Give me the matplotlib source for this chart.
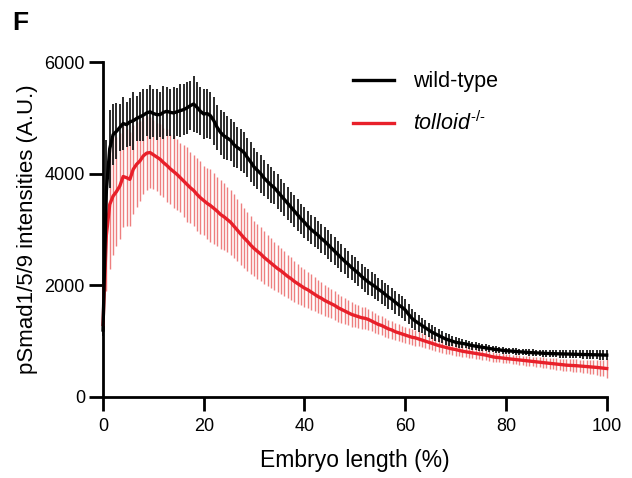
import numpy as np
import matplotlib
matplotlib.use("Agg")
import matplotlib.pyplot as plt

plt.rcParams['font.family'] = ['Liberation Sans', 'DejaVu Sans']
plt.rcParams['mathtext.fontset'] = 'custom'
plt.rcParams['mathtext.rm'] = 'Liberation Sans'
plt.rcParams['mathtext.it'] = 'Liberation Sans:italic'

# Embryo length positions (%), 151 samples
n_points = 151
x_max = 100

wt_mean = [
    1200, 3700, 4450, 4700, 4760, 4830, 4900, 4880, 4930, 4950,
    4990, 5020, 5050, 5090, 5110, 5080, 5060, 5060, 5100, 5120,
    5100, 5090, 5110, 5130, 5150, 5180, 5220, 5250, 5190, 5120,
    5070, 5080, 5040, 4950, 4830, 4740, 4680, 4640, 4600, 4520,
    4470, 4430, 4380, 4290, 4210, 4120, 4060, 4000, 3920, 3860,
    3800, 3750, 3680, 3610, 3540, 3470, 3400, 3330, 3260, 3190,
    3130, 3060, 3000, 2950, 2900, 2840, 2790, 2730, 2670, 2610,
    2550, 2490, 2430, 2380, 2320, 2270, 2220, 2160, 2110, 2060,
    2020, 1980, 1930, 1890, 1840, 1790, 1750, 1700, 1650, 1610,
    1560, 1480, 1410, 1360, 1320, 1280, 1240, 1200, 1160, 1130,
    1100, 1070, 1040, 1020, 1000, 980, 970, 960, 950, 935,
    920, 910, 900, 890, 880, 870, 860, 850, 845, 835,
    830, 825, 820, 815, 810, 805, 800, 797, 793, 790,
    787, 783, 780, 778, 776, 775, 773, 771, 770, 768,
    766, 765, 763, 761, 760, 758, 757, 755, 753, 752,
    750,
]
wt_sd = [
    100, 900, 700, 550,
    500, 420, 480, 400, 430, 520, 410, 440, 460, 420, 480, 430, 450, 400, 470,
    440, 420, 460, 430, 480, 450, 470, 440, 500, 460, 430, 450, 440, 420, 430,
    410, 400, 420, 390, 380, 400, 370, 380, 360, 350, 360, 340,
    330, 340, 320, 310, 320, 300, 310, 290, 300, 290, 280, 290, 280, 270, 280,
    270, 260, 270, 255, 260, 250, 255, 245, 250, 240, 245, 235, 240, 230, 235,
    225, 230, 220, 225, 215, 220, 210, 215, 205, 210, 200, 205, 195, 200, 190,
    180, 170, 160, 150, 140, 135, 130, 125, 120, 115, 110, 105, 100, 95, 90,
    85, 80, 78, 75, 72, 70, 68, 66, 64, 62, 60, 60, 58, 58, 56,
    56, 55, 55, 55, 56, 56, 57, 58, 58, 60, 60, 62, 62, 64, 65,
    66, 67, 68, 70, 70, 72, 72, 74, 75, 76, 78, 80, 82, 85, 90,
]
tll_mean = [
    1300, 2900, 3450, 3600, 3680, 3780, 3950, 3930, 3900, 4080,
    4170, 4230, 4320, 4370, 4380, 4340, 4300, 4260, 4200, 4150,
    4090, 4040, 3990, 3930, 3870, 3810, 3750, 3700, 3630, 3570,
    3520, 3470, 3430, 3380, 3330, 3270, 3230, 3180, 3130, 3060,
    2990, 2920, 2850, 2790, 2720, 2660, 2610, 2560, 2500, 2450,
    2400, 2350, 2300, 2260, 2210, 2160, 2120, 2070, 2030, 1990,
    1950, 1920, 1880, 1840, 1800, 1770, 1730, 1700, 1670, 1640,
    1600, 1570, 1540, 1510, 1480, 1460, 1440, 1420, 1410, 1390,
    1360, 1330, 1300, 1280, 1250, 1220, 1200, 1170, 1150, 1130,
    1110, 1090, 1070, 1060, 1040, 1020, 1000, 980, 960, 940,
    920, 905, 890, 875, 860, 850, 835, 820, 810, 800,
    790, 780, 770, 760, 750, 735, 720, 710, 705, 697,
    690, 683, 677, 670, 663, 657, 650, 643, 637, 630,
    623, 617, 610, 603, 597, 590, 583, 577, 570, 567,
    563, 560, 555, 550, 545, 540, 535, 530, 523, 517,
    510,
]
tll_sd = [
    100, 1000, 1150, 1050, 980, 950, 900, 870, 840, 800, 760, 720, 690, 660, 640, 620,
    610, 640, 620, 650, 630, 660, 640, 620, 650, 670, 640, 630, 660, 650, 620, 640, 650, 630,
    620, 610, 600, 590, 580, 570, 560, 550, 540, 530, 515, 500,
    490, 480, 470, 455, 445, 435, 425, 410, 400, 390, 380, 370, 355, 345, 335,
    325, 315, 305, 295, 285, 275, 270, 262, 255, 248, 240, 232, 225, 218, 210,
    205, 200, 195, 190, 185, 180, 176, 172, 168, 164, 160, 156, 153, 150, 147,
    144, 141, 138, 135, 132, 129, 126, 123, 120, 118, 116, 114, 112, 110, 108,
    106, 104, 102, 100, 98, 96, 94, 92, 90, 88, 86, 85, 84, 83, 82,
    82, 82, 83, 84, 85, 86, 87, 88, 89, 90, 92, 94, 96, 98, 100,
    102, 104, 106, 108, 110, 113, 116, 119, 122, 126, 130, 135, 140, 150, 170,
]

x = np.linspace(0, x_max, n_points)

fig = plt.figure(figsize=(6.32, 4.78), dpi=100)
ax = fig.add_axes([0.163, 0.1695, 0.797, 0.7005])

red = '#e8202a'
ax.errorbar(x, tll_mean, yerr=tll_sd, fmt='none', ecolor='#ee7f7f',
            elinewidth=1.0, capsize=0, zorder=1, clip_on=False)
ax.errorbar(x, wt_mean, yerr=wt_sd, fmt='none', ecolor='#1a1a1a',
            elinewidth=1.3, capsize=0, zorder=2, clip_on=False)
ax.plot(x, tll_mean, color=red, lw=2.4, zorder=3, clip_on=False,
        label='$\\mathit{tolloid}^{\\mathit{\u2010/\u2010}}$')
ax.plot(x, wt_mean, color='black', lw=2.4, zorder=4, clip_on=False,
        label='wild-type')

ax.set_xlim(0, 100)
ax.set_ylim(0, 6000)
ax.set_xticks([0, 20, 40, 60, 80, 100])
ax.set_yticks([0, 2000, 4000, 6000])
for s in ['top', 'right']:
    ax.spines[s].set_visible(False)
for s in ['left', 'bottom']:
    ax.spines[s].set_linewidth(2.0)
ax.tick_params(direction='out', length=10, width=2.0, labelsize=13)
ax.tick_params(axis='x', pad=5)
ax.tick_params(axis='y', pad=3)

ax.set_xlabel('Embryo length (%)', fontsize=16.5, labelpad=10)
ax.set_ylabel('pSmad1/5/9 intensities (A.U.)', fontsize=16, labelpad=5)

handles, labels = ax.get_legend_handles_labels()
leg = ax.legend(handles[::-1], labels[::-1], loc='upper left',
                bbox_to_anchor=(0.458, 1.03), frameon=False, fontsize=15.5,
                handlelength=1.9, handletextpad=0.9, labelspacing=0.9)

fig.text(0.02, 0.978, 'F', fontsize=19, fontweight='bold', va='top', ha='left')

fig.savefig('out.png', dpi=100)
